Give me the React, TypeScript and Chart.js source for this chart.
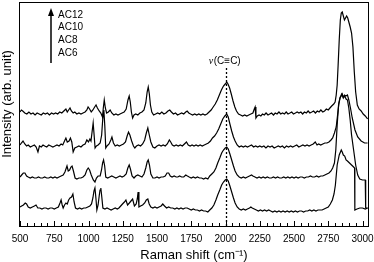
import { useEffect, useRef } from "react";
import { Chart, registerables } from "chart.js";

Chart.register(...registerables);

// Raman shift range (cm-1) and tick labels
const X_MIN = 500;
const X_MAX = 3040;
const X_TICK_LABELS = [500, 750, 1000, 1250, 1500, 1750, 2000, 2250, 2500, 2750, 3000];
const X_TICK_STEP = 250;
const X_MINOR_STEP = 50;
const Y_MIN = 0;
const Y_MAX = 225;

const X_TITLE = "Raman shift (cm⁻¹)";
const Y_TITLE = "Intensity (arb. unit)";
const LEGEND_LABELS = ["AC12", "AC10", "AC8", "AC6"];
const PEAK_POS = 2005;
const PEAK_LABEL_NU = "ν";
const PEAK_LABEL_REST = "(C≡C)";
const PEAK_LINE_TOP = 159;

// Spectra, stacked with offsets (x = Raman shift, y = intensity, arb. unit)
const AC12: [number, number][] = [
  [500,115],[510,117],[520,116],[535,114],[550,113],[565,115],[580,113],[595,114],[610,112],[625,114],[640,113],[655,112],[670,114],[685,113],[700,114],[715,112],[730,114],[745,113],[760,114],[775,113],[790,115],[805,114],[820,116],[835,118],[845,115],[855,117],[865,119],[875,116],[888,114],[900,115],[915,113],[930,114],[945,113],[960,114],[975,115],[988,117],[997,120],[1008,118],[1020,115],[1032,117],[1045,120],[1055,122],[1065,119],[1078,116],[1090,114],[1102,110],[1108,119],[1115,127],[1123,119],[1132,114],[1145,115],[1158,117],[1170,114],[1185,112],[1200,113],[1215,112],[1230,113],[1245,114],[1260,115],[1275,118],[1288,127],[1297,131],[1305,125],[1313,115],[1322,109],[1332,112],[1345,113],[1360,112],[1375,114],[1390,115],[1405,117],[1418,124],[1428,135],[1436,140],[1444,133],[1452,122],[1462,115],[1475,112],[1490,113],[1505,114],[1520,113],[1535,115],[1550,113],[1565,114],[1580,116],[1593,117],[1605,115],[1620,113],[1635,114],[1650,112],[1665,113],[1680,114],[1695,113],[1710,115],[1720,116],[1732,114],[1745,113],[1760,112],[1775,113],[1790,112],[1805,113],[1820,112],[1835,113],[1850,112],[1865,113],[1880,115],[1895,117],[1910,120],[1925,123],[1940,127],[1955,132],[1970,137],[1985,141],[1998,143],[2009,145],[2018,143],[2030,139],[2042,133],[2055,126],[2068,120],[2080,116],[2095,113],[2110,112],[2125,111],[2140,112],[2155,111],[2170,112],[2185,113],[2200,114],[2210,118],[2216,120],[2222,109],[2232,111],[2245,112],[2258,111],[2270,113],[2283,112],[2296,114],[2310,112],[2323,113],[2336,114],[2350,112],[2363,114],[2376,113],[2390,115],[2403,113],[2416,114],[2430,113],[2443,115],[2456,113],[2470,114],[2483,115],[2496,113],[2510,114],[2523,115],[2536,114],[2550,115],[2563,113],[2576,115],[2590,114],[2603,116],[2616,114],[2630,115],[2643,116],[2656,114],[2670,116],[2683,115],[2696,117],[2710,115],[2723,116],[2736,118],[2750,117],[2762,119],[2775,121],[2790,123],[2800,125],[2808,132],[2815,142],[2822,162],[2830,187],[2838,207],[2845,214],[2852,215],[2860,211],[2868,207],[2876,209],[2884,211],[2892,209],[2900,205],[2910,200],[2920,194],[2930,180],[2940,155],[2950,135],[2962,122],[2975,118],[2990,116],[3005,113],[3020,111],[3037,108]
];

const AC10: [number, number][] = [
  [500,82],[510,84],[522,86],[535,83],[548,81],[560,82],[575,80],[590,81],[605,82],[618,80],[631,75],[642,81],[655,80],[668,82],[680,81],[695,80],[710,82],[725,81],[740,80],[755,81],[770,82],[785,81],[800,83],[812,82],[825,86],[835,89],[845,85],[858,86],[868,89],[878,85],[888,75],[900,79],[915,80],[930,81],[945,80],[960,82],[975,83],[988,87],[1000,85],[1010,88],[1018,86],[1026,95],[1034,104],[1041,92],[1048,79],[1058,81],[1070,82],[1085,84],[1096,92],[1104,108],[1112,117],[1119,101],[1126,79],[1135,81],[1150,83],[1163,87],[1171,90],[1182,84],[1195,81],[1210,82],[1225,81],[1240,82],[1255,83],[1270,85],[1282,91],[1292,95],[1302,92],[1315,86],[1328,81],[1338,79],[1350,81],[1365,82],[1380,81],[1395,83],[1410,87],[1422,94],[1433,99],[1442,93],[1455,85],[1470,80],[1484,79],[1500,81],[1515,82],[1530,81],[1545,82],[1560,81],[1575,83],[1590,87],[1600,85],[1612,82],[1625,81],[1640,82],[1655,81],[1670,82],[1685,81],[1700,83],[1715,85],[1728,82],[1742,81],[1756,82],[1770,81],[1785,82],[1800,81],[1815,82],[1830,81],[1845,82],[1860,83],[1875,84],[1890,86],[1905,89],[1920,91],[1935,94],[1950,98],[1965,103],[1980,108],[1995,111],[2009,113],[2020,110],[2032,103],[2045,96],[2058,90],[2070,86],[2085,82],[2100,80],[2115,81],[2130,80],[2145,81],[2160,80],[2175,81],[2190,82],[2205,80],[2220,81],[2235,80],[2250,81],[2265,80],[2280,81],[2295,79],[2310,81],[2325,80],[2340,81],[2355,79],[2370,80],[2385,81],[2400,80],[2415,81],[2430,79],[2445,81],[2460,80],[2475,81],[2490,80],[2505,81],[2520,82],[2535,80],[2550,81],[2565,82],[2580,81],[2595,82],[2610,81],[2625,82],[2640,83],[2655,85],[2668,82],[2680,83],[2695,82],[2710,83],[2725,84],[2740,84],[2755,85],[2770,87],[2782,89],[2795,94],[2808,100],[2818,112],[2828,124],[2838,130],[2848,133],[2858,130],[2868,132],[2878,131],[2890,132],[2900,127],[2912,119],[2925,109],[2945,97],[2965,90],[2990,86],[3015,84],[3037,84]
];

const AC8: [number, number][] = [
  [500,50],[512,52],[524,54],[536,54],[548,51],[560,50],[575,49],[590,50],[605,49],[620,49],[635,50],[650,49],[665,49],[680,50],[695,49],[710,49],[725,50],[740,49],[755,50],[770,49],[785,50],[800,51],[815,52],[828,55],[843,61],[852,56],[862,57],[872,60],[880,61],[890,56],[902,49],[915,48],[930,49],[945,49],[960,50],[975,52],[988,57],[998,59],[1008,57],[1020,52],[1035,47],[1047,45],[1058,49],[1070,51],[1085,51],[1095,57],[1103,64],[1110,67],[1118,61],[1126,50],[1140,49],[1155,50],[1170,51],[1185,50],[1200,49],[1215,50],[1230,51],[1245,50],[1260,51],[1275,53],[1287,59],[1297,62],[1306,58],[1318,51],[1332,49],[1345,51],[1360,52],[1375,51],[1390,50],[1405,53],[1418,59],[1428,65],[1436,67],[1445,62],[1455,53],[1470,49],[1485,49],[1500,50],[1515,49],[1530,50],[1545,50],[1560,51],[1573,54],[1585,54],[1597,51],[1610,50],[1625,51],[1640,50],[1652,50],[1665,51],[1680,50],[1695,50],[1710,52],[1722,51],[1735,50],[1750,49],[1765,50],[1780,49],[1795,50],[1810,49],[1825,49],[1840,48],[1855,49],[1871,48],[1885,51],[1900,53],[1915,55],[1930,59],[1943,64],[1958,69],[1972,74],[1985,77],[1998,79],[2009,80],[2020,78],[2032,73],[2045,67],[2058,61],[2070,56],[2085,52],[2100,50],[2115,49],[2130,50],[2145,49],[2160,50],[2175,51],[2190,52],[2200,51],[2215,50],[2230,49],[2245,50],[2260,49],[2275,50],[2290,49],[2305,50],[2320,49],[2335,49],[2350,50],[2365,49],[2380,50],[2395,49],[2410,49],[2425,50],[2440,49],[2455,50],[2470,49],[2485,50],[2500,49],[2515,50],[2530,49],[2545,50],[2560,50],[2575,49],[2590,50],[2605,50],[2620,51],[2635,50],[2650,50],[2665,51],[2680,50],[2695,51],[2710,51],[2725,52],[2740,53],[2755,54],[2770,56],[2782,59],[2795,64],[2805,77],[2815,102],[2825,122],[2835,129],[2845,131],[2852,133],[2860,129],[2870,131],[2880,128],[2890,127],[2900,119],[2910,107],[2920,92],[2935,77],[2950,62],[2965,52],[2980,48],[3000,47],[3020,47],[3023,19],[3037,19]
];

const AC6: [number, number][] = [
  [500,20],[512,21],[525,22],[538,24],[548,23],[560,20],[575,19],[590,20],[605,21],[617,22],[630,19],[645,19],[660,18],[675,19],[690,19],[705,18],[720,19],[735,19],[750,18],[765,19],[780,20],[792,24],[800,27],[808,22],[815,19],[825,22],[835,24],[845,23],[855,27],[865,29],[876,30],[886,33],[895,25],[905,19],[920,18],[935,19],[950,18],[965,19],[980,19],[995,20],[1010,21],[1022,23],[1032,29],[1040,36],[1047,39],[1054,29],[1061,17],[1070,22],[1078,31],[1084,37],[1090,39],[1097,30],[1105,19],[1120,18],[1135,19],[1150,18],[1165,17],[1180,18],[1195,19],[1210,18],[1222,19],[1235,21],[1248,23],[1262,25],[1273,27],[1285,22],[1298,24],[1310,26],[1322,28],[1335,21],[1348,23],[1356,28],[1362,35],[1368,20],[1380,21],[1395,22],[1410,24],[1422,27],[1433,28],[1443,23],[1455,20],[1470,19],[1485,20],[1500,19],[1515,20],[1530,21],[1542,23],[1555,21],[1570,19],[1585,20],[1600,19],[1615,19],[1630,18],[1645,19],[1660,18],[1675,19],[1690,18],[1705,19],[1720,19],[1735,18],[1750,17],[1765,18],[1780,17],[1795,17],[1810,16],[1825,17],[1840,16],[1855,16],[1871,15],[1885,17],[1900,19],[1915,22],[1930,27],[1943,32],[1958,37],[1972,42],[1985,45],[1998,47],[2009,48],[2020,46],[2032,41],[2045,35],[2058,29],[2070,24],[2085,20],[2100,18],[2115,17],[2130,18],[2145,17],[2160,18],[2175,19],[2185,20],[2195,19],[2210,18],[2225,17],[2240,16],[2255,17],[2270,16],[2285,17],[2300,16],[2315,17],[2330,16],[2345,15],[2360,16],[2375,15],[2390,16],[2405,15],[2420,16],[2435,15],[2450,16],[2465,15],[2480,16],[2495,15],[2510,16],[2525,15],[2540,16],[2555,16],[2570,15],[2585,16],[2600,16],[2615,17],[2630,16],[2645,17],[2660,16],[2675,17],[2690,17],[2705,17],[2720,18],[2735,19],[2750,20],[2765,23],[2780,27],[2792,33],[2802,42],[2815,62],[2830,72],[2845,77],[2852,75],[2860,72],[2870,71],[2880,67],[2890,66],[2905,64],[2920,62],[2935,60],[2942,59],[2944,17],[2960,18],[2980,19],[3000,19],[3020,18],[3037,19]
];

const SERIES = [AC12, AC10, AC8, AC6];

const SANS = "'Liberation Sans', Arial, Helvetica, sans-serif";
const SERIF = "'Liberation Serif', 'Times New Roman', serif";

export default function App() {
  const ref = useRef<HTMLCanvasElement>(null);

  useEffect(() => {
    document.body.style.margin = "0";
    const canvas = ref.current;
    if (!canvas) return;

    const overlay = {
      id: "overlay",
      afterDraw(chart: any) {
        const { ctx, chartArea: a, scales } = chart;
        const x = scales.x;
        const y = scales.y;
        ctx.save();
        ctx.strokeStyle = "#000";
        ctx.fillStyle = "#000";
        ctx.lineWidth = 1;
        // frame
        ctx.strokeRect(a.left - 0.5, a.top + 0.5, a.right - a.left + 1, a.bottom - a.top - 1);
        // inward ticks
        for (let v = X_MIN; v <= X_MAX; v += X_MINOR_STEP) {
          const px = Math.round(x.getPixelForValue(v)) + 0.5;
          const len = v % X_TICK_STEP === 0 ? 5 : 3;
          ctx.beginPath();
          ctx.moveTo(px, a.bottom - 1);
          ctx.lineTo(px, a.bottom - 1 - len);
          ctx.stroke();
        }
        // dotted peak line
        const lx = Math.round(x.getPixelForValue(PEAK_POS)) + 0.5;
        ctx.save();
        ctx.lineWidth = 1.3;
        ctx.setLineDash([2, 2]);
        ctx.beginPath();
        ctx.moveTo(lx, y.getPixelForValue(PEAK_LINE_TOP));
        ctx.lineTo(lx, a.bottom);
        ctx.stroke();
        ctx.restore();
        // peak label
        ctx.textBaseline = "middle";
        ctx.font = `italic 10px ${SERIF}`;
        const wNu = ctx.measureText(PEAK_LABEL_NU).width;
        ctx.font = `10px ${SANS}`;
        const wRest = ctx.measureText(PEAK_LABEL_REST).width;
        const startX = lx - 2 - (wNu + wRest) / 2;
        const ly = y.getPixelForValue(PEAK_LINE_TOP) - 7;
        ctx.textAlign = "left";
        ctx.font = `italic 10px ${SERIF}`;
        ctx.fillText(PEAK_LABEL_NU, startX, ly);
        ctx.font = `10px ${SANS}`;
        ctx.fillText(PEAK_LABEL_REST, startX + wNu + 0.5, ly);
        // legend arrow
        const ax = 51;
        ctx.lineWidth = 1.5;
        ctx.beginPath();
        ctx.moveTo(ax, 63);
        ctx.lineTo(ax, 14);
        ctx.stroke();
        ctx.beginPath();
        ctx.moveTo(ax, 8);
        ctx.lineTo(ax - 3, 16);
        ctx.lineTo(ax + 3, 16);
        ctx.closePath();
        ctx.fill();
        ctx.font = `10px ${SANS}`;
        ctx.textAlign = "left";
        const ys = [15, 27, 40, 53];
        LEGEND_LABELS.forEach((t, i) => ctx.fillText(t, 58, ys[i]));
        // y title
        ctx.save();
        ctx.translate(7.5, 104);
        ctx.rotate(-Math.PI / 2);
        ctx.textAlign = "center";
        ctx.textBaseline = "middle";
        ctx.font = `13px ${SANS}`;
        ctx.fillText(Y_TITLE, 0, 0);
        ctx.restore();
        ctx.restore();
      },
    };

    const chart = new Chart(canvas, {
      type: "line",
      data: {
        datasets: SERIES.map((s, i) => ({
          label: LEGEND_LABELS[i],
          data: s.map(([xv, yv]) => ({ x: xv, y: yv })),
          borderColor: "#000",
          borderWidth: 1.2,
          pointRadius: 0,
          fill: false,
          tension: 0,
        })),
      },
      options: {
        responsive: false,
        animation: false,
        devicePixelRatio: 1,
        layout: { padding: { left: 0, top: 2, right: 6, bottom: 0 } },
        plugins: { legend: { display: false }, tooltip: { enabled: false } },
        scales: {
          x: {
            type: "linear",
            min: X_MIN,
            max: X_MAX,
            grid: { display: false, drawTicks: false },
            border: { display: false },
            afterBuildTicks: (s: any) => {
              s.ticks = X_TICK_LABELS.map((v) => ({ value: v }));
            },
            ticks: {
              autoSkip: false,
              maxRotation: 0,
              padding: 6,
              color: "#000",
              font: { family: SANS, size: 10 },
              callback: (v: any) => String(v),
            },
            title: {
              display: true,
              text: X_TITLE,
              color: "#000",
              font: { family: SANS, size: 13, lineHeight: 1 },
              padding: 0,
            },
            afterFit: (s: any) => {
              s.height = 35;
              s.paddingLeft = 0;
              s.paddingRight = 0;
            },
          },
          y: {
            type: "linear",
            min: Y_MIN,
            max: Y_MAX,
            grid: { display: false, drawTicks: false },
            border: { display: false },
            ticks: { display: false },
            afterFit: (s: any) => {
              s.width = 20;
              s.paddingTop = 0;
              s.paddingBottom = 0;
            },
          },
        },
      } as any,
      plugins: [overlay],
    });
    return () => chart.destroy();
  }, []);

  return (
    <div style={{ width: 374, height: 262 }}>
      <canvas ref={ref} width={374} height={262} style={{ display: "block" }} />
    </div>
  );
}
